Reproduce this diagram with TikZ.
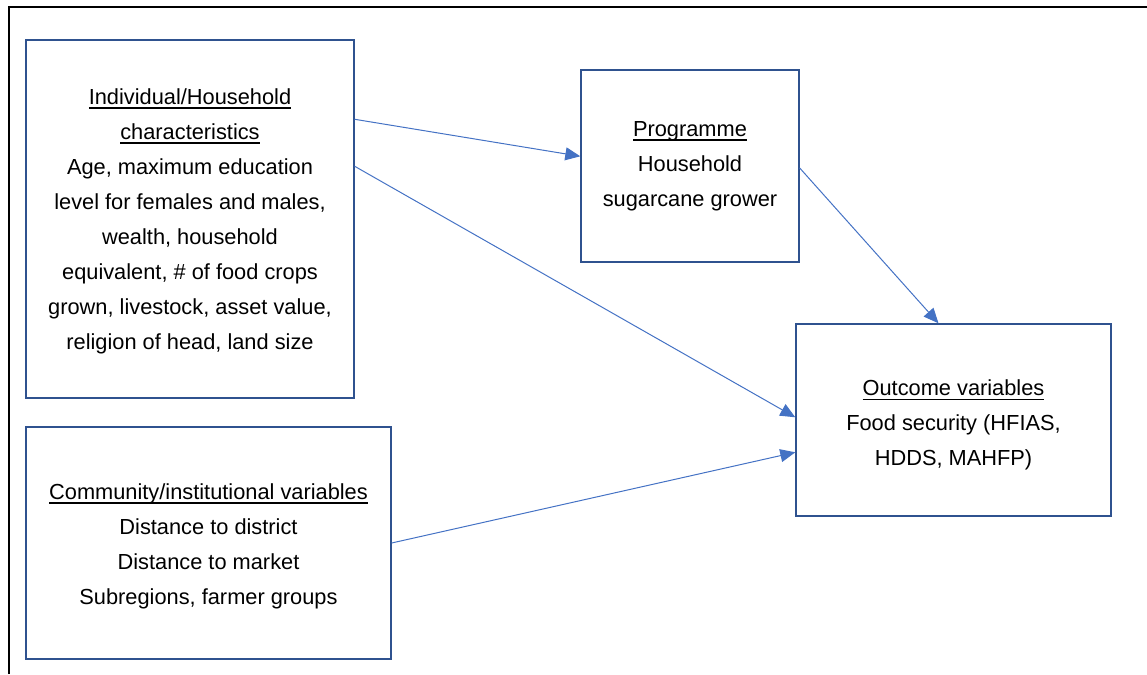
\documentclass[tikz,border=0pt]{standalone}
\usepackage{fontspec}
\setmainfont{Liberation Sans}
\usetikzlibrary{arrows.meta}
\definecolor{boxline}{HTML}{2F528F}
\definecolor{arrowblue}{HTML}{4472C4}
\newcommand{\hdul}[1]{\setbox0\hbox{#1}\rlap{\rule[-4.5pt]{\wd0}{1.3pt}}\box0}
\tikzset{
  box/.style={draw=boxline, line width=1.4pt, rectangle, inner sep=0pt, align=center,
    font=\fontsize{21.8pt}{35pt}\selectfont},
  conn/.style={draw=arrowblue, line width=1pt, -{Triangle[length=15pt,width=13pt]}},
}
\begin{document}
\begin{tikzpicture}[x=1pt,y=1pt]
\useasboundingbox (0,0) rectangle (1147,674);
\draw[line width=2pt] (9,0) |- (1147,667);
\node[box, minimum width=328pt, minimum height=358pt] (ind) at (190,455)
  {\rule{0pt}{20pt}\hdul{Individual/Household}\\ \hdul{characteristics}\\ Age, maximum education\\ level for females and males,\\ wealth, household\\ equivalent, \# of food crops\\ grown, livestock, asset value,\\ religion of head, land size};
\node[box, minimum width=218pt, minimum height=192pt] (prog) at (690,508)
  {\hdul{Programme}\\ Household\\ sugarcane grower};
\node[box, minimum width=315pt, minimum height=192pt] (out) at (953.5,254)
  {\rule{0pt}{26pt}\hdul{Outcome variables}\\ Food security (HFIAS,\\ HDDS, MAHFP)};
\node[box, minimum width=365pt, minimum height=232pt] (com) at (208.5,131)
  {\rule{0pt}{22pt}\hdul{Community/institutional variables}\\ Distance to district\\ Distance to market\\ Subregions, farmer groups};
\draw[conn] ([yshift=-80pt]ind.north east) -- ([yshift=-87pt]prog.north west);
\draw[conn] ([yshift=-127pt]ind.north east) -- ([yshift=-94pt]out.north west);
\draw[conn] (com.east) -- ([yshift=-129pt]out.north west);
\draw[conn] ([yshift=-2pt]prog.east) -- ([xshift=-15pt]out.north);
\end{tikzpicture}
\end{document}
